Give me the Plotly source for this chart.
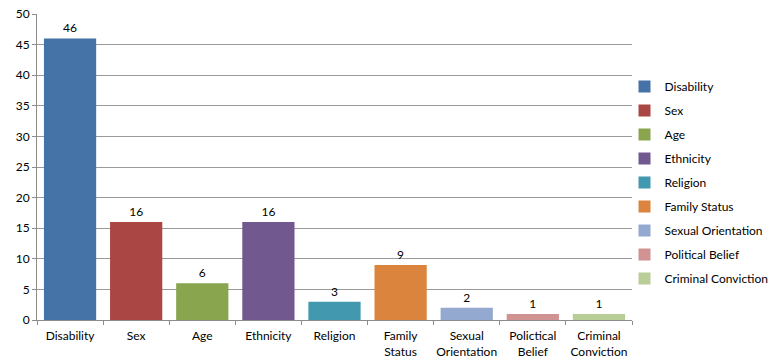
import plotly.graph_objects as go

# Complaint grounds and counts
categories = ["Disability", "Sex", "Age", "Ethnicity", "Religion",
              "Family Status", "Sexual Orientation", "Political Belief",
              "Criminal Conviction"]
tick_labels = ["Disability", "Sex", "Age", "Ethnicity", "Religion",
               "Family<br>Status", "Sexual<br>Orientation", "Polictical<br>Belief",
               "Criminal<br>Conviction"]
counts = [46, 16, 6, 16, 3, 9, 2, 1, 1]
colors = ["#4572A7", "#AA4643", "#89A54E", "#71588F", "#4198AF",
          "#DB843D", "#93A9CF", "#D19392", "#B9CD96"]

FONT = "Lato, Liberation Sans, sans-serif"

fig = go.Figure()
for name, tick, val, col in zip(categories, tick_labels, counts, colors):
    fig.add_trace(go.Bar(
        x=[tick], y=[val], name=name, legendgroup=name,
        marker=dict(color=col, line=dict(width=0)),
        text=[str(val)], textposition="outside",
        textfont=dict(family=FONT, size=12, color="#000000"),
        cliponaxis=False,
        width=0.79,
    ))

fig.update_layout(
    width=771, height=360,
    margin=dict(l=37, r=139, t=14, b=40, autoexpand=False),
    paper_bgcolor="white", plot_bgcolor="white",
    barmode="overlay",
    font=dict(family=FONT, size=12, color="#000000"),
    showlegend=True,
    legend=dict(xref="container", yref="container",
                x=0.81, y=1 - 72 / 360, yanchor="top", xanchor="left",
                maxheight=1.0,
                font=dict(family=FONT, size=12), tracegroupgap=5,
                itemwidth=30, bgcolor="rgba(0,0,0,0)"),
    xaxis=dict(
        categoryorder="array", categoryarray=tick_labels,
        showline=True, linecolor="#8c8c8c", linewidth=1,
        ticks="outside", ticklen=4, tickcolor="#8c8c8c",
        tickson="boundaries", showgrid=False, tickangle=0,
        automargin=False, ticklabelstandoff=5,
        tickfont=dict(family=FONT, size=12),
    ),
    yaxis=dict(
        range=[0, 50], dtick=5, tick0=0,
        showline=True, linecolor="#8c8c8c", linewidth=1,
        ticks="outside", ticklen=4, tickcolor="#8c8c8c",
        showgrid=True, gridcolor="#9a9a9a", gridwidth=1,
        zeroline=False, automargin=False,
        tickfont=dict(family=FONT, size=12),
    ),
)

fig.write_html("out.html")
